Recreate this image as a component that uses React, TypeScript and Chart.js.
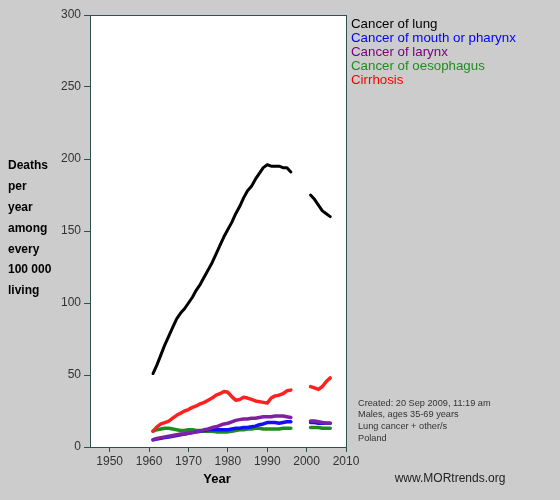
import React, { useEffect, useRef } from "react";
import { Chart, registerables } from "chart.js";

Chart.register(...registerables);

const YEARS = [
  1961, 1962, 1963, 1964, 1965, 1966, 1967, 1968, 1969, 1970,
  1971, 1972, 1973, 1974, 1975, 1976, 1977, 1978, 1979, 1980,
  1981, 1982, 1983, 1984, 1985, 1986, 1987, 1988, 1989, 1990,
  1991, 1992, 1993, 1994, 1995, 1996, 1997, 1998, 1999, 2000,
  2001, 2002, 2003, 2004, 2005, 2006,
];

const LUNG = [
  51, 57, 64, 71, 77, 83, 89, 93, 96, 100,
  104, 109, 113, 118, 123, 128, 134, 140, 146, 151,
  156, 162, 167, 173, 178, 181, 186, 190, 194, 196,
  195, 195, 195, 194, 194, 191, null, null, null, null,
  175, 172, 168, 164, 162, 160,
];

const MOUTH = [
  5, 5.5, 6, 6.5, 7, 7.5, 8, 8.5, 9, 9.5,
  10, 10.5, 11, 11.5, 12, 12, 12, 12, 12, 12,
  12.5, 13, 13, 13.5, 13.5, 14, 14.5, 15.5, 16, 17,
  17, 17, 16.5, 17, 17.5, 17.5, null, null, null, null,
  17, 17, 16.5, 16.5, 16.5, 16.5,
];

const LARYNX = [
  5, 6, 6.5, 7, 7.5, 8, 8.5, 9, 9, 9.5,
  10, 10.5, 11, 12, 12.5, 13.5, 14, 15, 16, 16.5,
  17.5, 18.5, 19, 19.5, 19.5, 20, 20, 20.5, 21, 21,
  21, 21.5, 21.5, 21.5, 21, 20.5, null, null, null, null,
  18, 18, 17.5, 17, 16.5, 16.5,
];

const OESOPHAGUS = [
  11, 12, 12.5, 13, 13, 12.5, 12, 11.5, 11.5, 12,
  12, 11.5, 11.5, 11, 11, 11, 10.5, 10.5, 10.5, 10.5,
  11, 11.5, 12, 12, 12.5, 12.5, 13, 13, 12.5, 12.5,
  12.5, 12.5, 12.5, 13, 13, 13, null, null, null, null,
  13.5, 13.5, 13.5, 13, 13, 13,
];

const CIRRHOSIS = [
  11, 14, 16, 17, 18, 20, 22, 23.5, 25, 26,
  27.5, 28.5, 30, 31, 32.5, 34, 36, 37, 38.5, 38,
  35, 32.5, 33, 34.5, 34, 33, 32, 31.5, 31, 30.5,
  34, 35.5, 36, 37, 39, 39.5, null, null, null, null,
  42, 41, 40, 42, 45.5, 48,
];

const X_TICKS = [1950, 1960, 1970, 1980, 1990, 2000, 2010];
const Y_TICKS = [0, 50, 100, 150, 200, 250, 300];

const SERIES_NAMES = [
  "Cancer of lung",
  "Cancer of mouth or pharynx",
  "Cancer of larynx",
  "Cancer of oesophagus",
  "Cirrhosis",
];
const LEGEND_COLORS = ["#000000", "#0000FF", "#800080", "#228B22", "#FF0000"];

const Y_TITLE_LINES = ["Deaths", "per", "year", "among", "every", "100 000", "living"];
const INFO_LINES = [
  "Created: 20 Sep 2009, 11:19 am",
  "Males, ages 35-69 years",
  "Lung cancer + other/s",
  "Poland",
];
const X_TITLE = "Year";
const SITE = "www.MORtrends.org";

const FRAME = "#2F4F4F";
const FONT = "'Liberation Sans', Arial, sans-serif";

export default function App() {
  const ref = useRef<HTMLCanvasElement | null>(null);

  useEffect(() => {
    document.body.style.margin = "0";
    const canvas = ref.current;
    if (!canvas) return;

    const toPts = (arr: (number | null)[]) =>
      YEARS.map((y, i) => ({ x: y, y: arr[i] }));

    const decor = {
      id: "decor",
      beforeDraw(chart: any) {
        const { ctx, chartArea: a } = chart;
        ctx.save();
        ctx.fillStyle = "#CCCCCC";
        ctx.fillRect(0, 0, chart.width, chart.height);
        ctx.fillStyle = "#FFFFFF";
        ctx.fillRect(a.left, a.top, a.right - a.left, a.bottom - a.top);
        ctx.restore();
      },
      afterDraw(chart: any) {
        const { ctx, chartArea: a } = chart;
        ctx.save();
        ctx.strokeStyle = FRAME;
        ctx.lineWidth = 1;
        ctx.strokeRect(Math.round(a.left) + 0.5, Math.round(a.top) + 0.5, Math.round(a.right - a.left), Math.round(a.bottom - a.top));
        // Y title
        ctx.fillStyle = "#000";
        ctx.font = `bold 12px ${FONT}`;
        ctx.textAlign = "left";
        ctx.textBaseline = "middle";
        Y_TITLE_LINES.forEach((t, i) => ctx.fillText(t, 8, 166 + i * 20.8));
        // X title
        ctx.font = `bold 13px ${FONT}`;
        ctx.textAlign = "center";
        ctx.fillText(X_TITLE, 217, 479);
        // Legend
        ctx.font = `13.3px ${FONT}`;
        ctx.textAlign = "left";
        SERIES_NAMES.forEach((t, i) => {
          ctx.fillStyle = LEGEND_COLORS[i];
          ctx.fillText(t, 351, 24 + i * 14);
        });
        // Info
        ctx.font = `9.2px ${FONT}`;
        ctx.fillStyle = "#333";
        INFO_LINES.forEach((t, i) => ctx.fillText(t, 358, 403 + i * 11.8));
        // Site
        ctx.font = `12px ${FONT}`;
        ctx.fillStyle = "#222";
        ctx.textAlign = "center";
        ctx.fillText(SITE, 450, 479);
        ctx.restore();
      },
    };

    const mk = (label: string, data: (number | null)[], color: string, order: number, w = 3) => ({
      label,
      data: toPts(data),
      borderColor: color,
      backgroundColor: color,
      borderWidth: w,
      pointRadius: 0,
      tension: 0,
      spanGaps: false,
      order,
      borderCapStyle: "round" as const,
      borderJoinStyle: "round" as const,
    });

    const chart = new Chart(canvas, {
      type: "line",
      data: {
        datasets: [
          mk(SERIES_NAMES[0], LUNG, "#000000", 0, 3),
          mk(SERIES_NAMES[1], MOUTH, "#1010FF", 3, 3.5),
          mk(SERIES_NAMES[2], LARYNX, "#7F20A0", 2, 3.5),
          mk(SERIES_NAMES[3], OESOPHAGUS, "#1E8C1E", 4, 3.5),
          mk(SERIES_NAMES[4], CIRRHOSIS, "#FF2020", 1, 3.5),
        ] as any,
      },
      options: {
        animation: false,
        responsive: false,
        devicePixelRatio: 1,
        layout: { padding: { left: 0, right: 214, top: 15, bottom: 0 } },
        plugins: { legend: { display: false }, tooltip: { enabled: false } },
        scales: {
          x: {
            type: "linear",
            min: 1945,
            max: 2010,
            afterBuildTicks: (s: any) => {
              s.ticks = X_TICKS.map((v) => ({ value: v }));
            },
            afterFit: (s: any) => {
              s.height = 53;
            },
            ticks: {
              autoSkip: false,
              maxRotation: 0,
              color: "#333",
              font: { size: 12, family: FONT },
              padding: 2,
              callback: (v: any) => String(v),
            },
            grid: { drawOnChartArea: false, drawTicks: true, tickLength: 5, color: FRAME },
            border: { display: true, color: FRAME, width: 1 },
          },
          y: {
            type: "linear",
            min: 0,
            max: 300,
            afterBuildTicks: (s: any) => {
              s.ticks = Y_TICKS.map((v) => ({ value: v }));
            },
            afterFit: (s: any) => {
              s.width = 90;
            },
            ticks: {
              autoSkip: false,
              color: "#333",
              font: { size: 12, family: FONT },
              padding: 3,
              callback: (v: any) => String(v),
            },
            grid: { drawOnChartArea: false, drawTicks: true, tickLength: 6, color: FRAME },
            border: { display: true, color: FRAME, width: 1 },
          },
        },
      },
      plugins: [decor],
    } as any);

    return () => chart.destroy();
  }, []);

  return <canvas ref={ref} width={560} height={500} style={{ display: "block" }} />;
}
